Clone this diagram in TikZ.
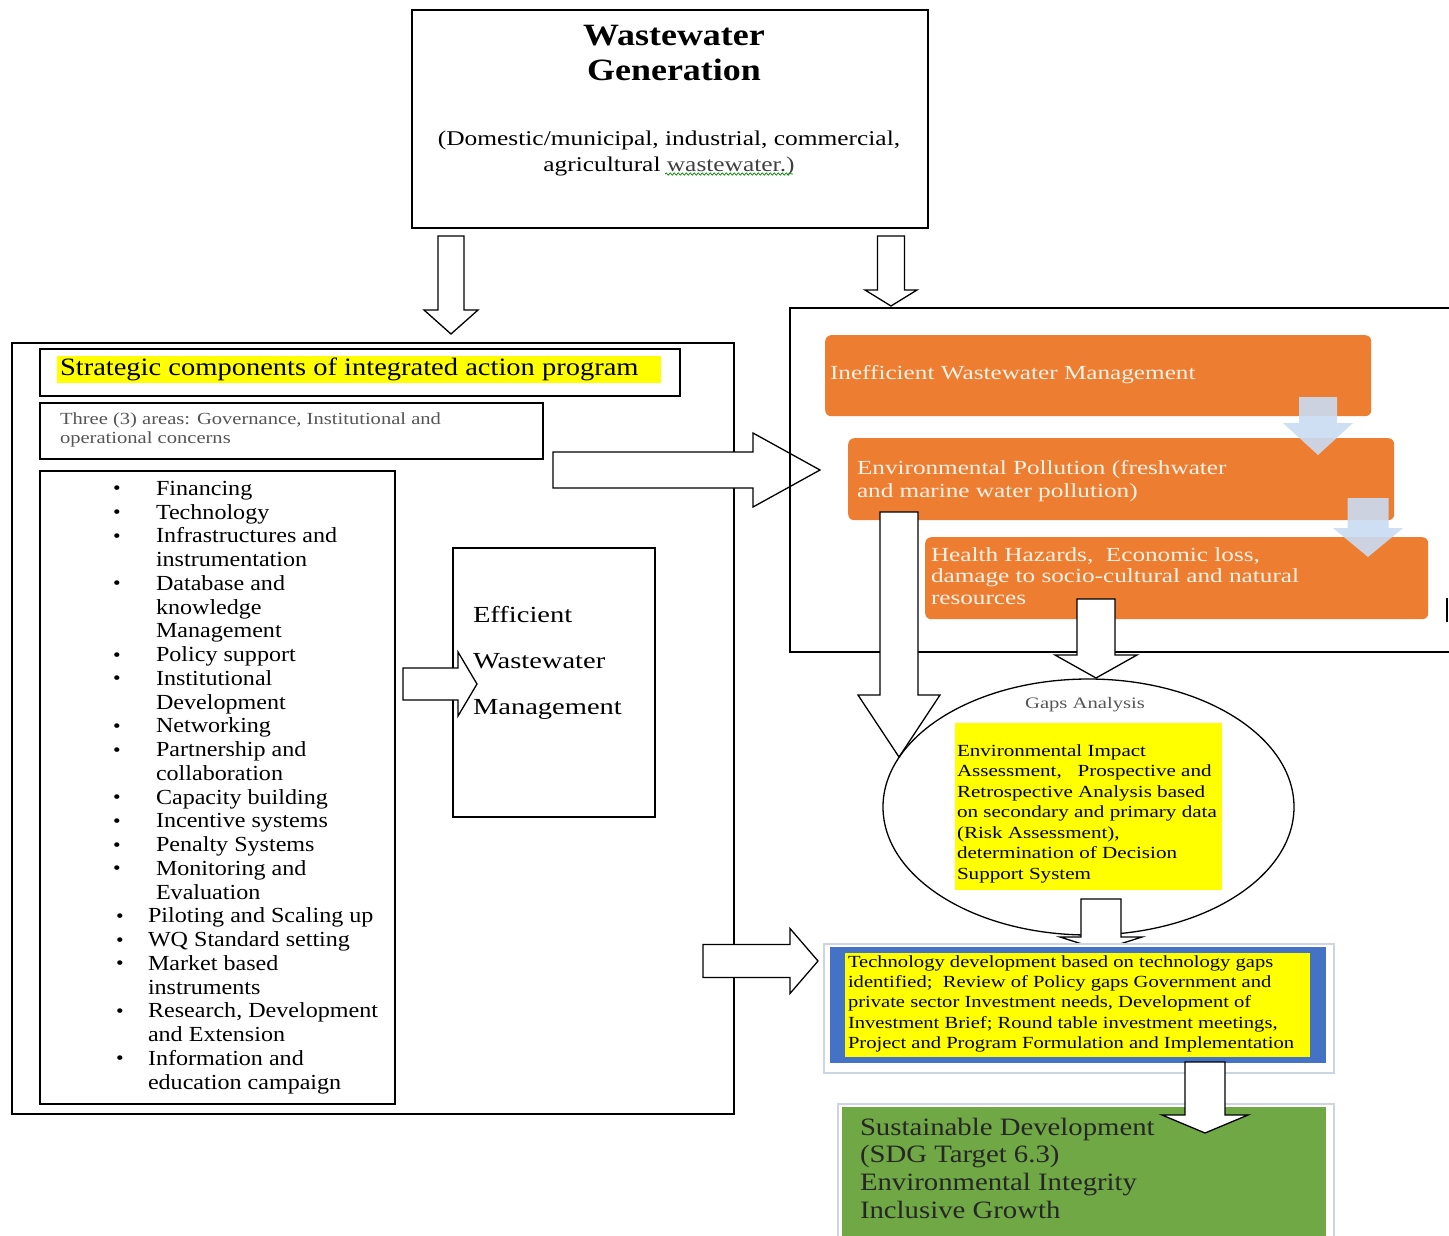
\documentclass[tikz,border=0pt]{standalone}
\usepackage{fontspec}
\setmainfont{Liberation Serif}
\usetikzlibrary{shapes.geometric,decorations.pathmorphing}
\definecolor{orng}{HTML}{ED7D31}
\definecolor{lblue}{HTML}{C9DCF2}
\definecolor{hyel}{HTML}{FFFF00}
\definecolor{sdgreen}{HTML}{6FA845}
\definecolor{tblue}{HTML}{4472C4}
\definecolor{fram}{HTML}{CDD5E0}
\definecolor{otext}{HTML}{FFF3E8}
\definecolor{gtext}{HTML}{555555}
\newcommand{\blkdown}[7][]{%
  \draw[blk,#1] ({#2-#3},#4) -- ({#2+#3},#4) -- ({#2+#3},#5) -- ({#2+#6},#5) -- (#2,#7) -- ({#2-#6},#5) -- ({#2-#3},#5) -- cycle;}
\newcommand{\blkright}[7][]{%
  \draw[blk,#1] (#2,{#3-#4}) -- (#5,{#3-#4}) -- (#5,{#3-#6}) -- (#7,#3) -- (#5,{#3+#6}) -- (#5,{#3+#4}) -- (#2,{#3+#4}) -- cycle;}
\newcommand{\fs}[3]{\fontsize{#1}{#2}\selectfont\addfontfeature{FakeStretch=#3}}
\newcommand{\bul}[1]{\makebox[#1][l]{\raisebox{0.5pt}{\scalebox{0.9}{\textbullet}}}}
\tikzset{
  blk/.style={draw=black, fill=white, line width=1.3pt, line join=miter},
  frame/.style={draw=black, line width=1.5pt},
  lightarrow/.style={fill=lblue, draw=none, opacity=0.9},
  obox/.style={fill=orng, rounded corners=6pt, draw=none},
  txt/.style={inner sep=0pt, outer sep=0pt},
}
\begin{document}
\begin{tikzpicture}[x=1pt,y=-1pt]
\useasboundingbox[fill=white] (0,0) rectangle (1449,1235);

% ---------- top box
\draw[frame] (412,10) rectangle (928,228);
\node[txt, font=\fs{31}{35}{1.16}\bfseries, align=center] (gentitle) at (674,53) {Wastewater\\Generation};
\node[txt, font=\fs{21}{26}{1.21}, align=center] (gensub) at (669,153) {(Domestic/municipal, industrial, commercial,\\agricultural \textcolor{black!75}{wastewater.)}};
\coordinate (sqA) at (665,174);
\coordinate (sqB) at (793,174);
\draw[green!55!black, line width=0.7pt, decorate, decoration={snake, amplitude=1.2pt, segment length=4pt}] (sqA) -- (sqB);

% arrows from top box
\blkdown{451}{13}{236}{310}{27}{334}
\blkdown{891}{13.5}{236}{290}{26}{306}

% ---------- left big box
\draw[frame] (12,343) rectangle (734,1114);
\draw[frame] (40,349) rectangle (680,396);
\fill[hyel] (57,356) rectangle (661,383);
\node[txt, font=\fs{25}{26}{1.14}, anchor=west] (strat) at (60,369) {Strategic components of integrated action program};
\draw[frame] (40,403) rectangle (543,459);
\node[txt, font=\fs{17}{19}{1.21}, text=gtext, anchor=north west, align=left] (three) at (60,412.4) {Three (3) areas: Governance, Institutional and\\operational concerns};

\draw[frame] (40,471) rectangle (395,1104);
\node[txt, font=\fs{21.5}{23.75}{1.12}, anchor=north west, align=left] (list) at (113,481) {%
\bul{43pt}Financing\\
\bul{43pt}Technology\\
\bul{43pt}Infrastructures and\\
\hspace*{43pt}instrumentation\\
\bul{43pt}Database and\\
\hspace*{43pt}knowledge\\
\hspace*{43pt}Management\\
\bul{43pt}Policy support\\
\bul{43pt}Institutional\\
\hspace*{43pt}Development\\
\bul{43pt}Networking\\
\bul{43pt}Partnership and\\
\hspace*{43pt}collaboration\\
\bul{43pt}Capacity building\\
\bul{43pt}Incentive systems\\
\bul{43pt}Penalty Systems\\
\bul{43pt}Monitoring and\\
\hspace*{43pt}Evaluation\\
\hspace*{3pt}\bul{32pt}Piloting and Scaling up\\
\hspace*{3pt}\bul{32pt}WQ Standard setting\\
\hspace*{3pt}\bul{32pt}Market based\\
\hspace*{35pt}instruments\\
\hspace*{3pt}\bul{32pt}Research, Development\\
\hspace*{35pt}and Extension\\
\hspace*{3pt}\bul{32pt}Information and\\
\hspace*{35pt}education campaign};

% efficient box
\draw[frame] (453,548) rectangle (655,817);
\node[txt, font=\fs{23}{46}{1.24}, anchor=north west, align=left] (eff) at (473,606.4) {Efficient\\Wastewater\\Management};
\blkright{403}{684}{16}{458}{32}{477}

% big arrow to right
\blkright{553}{470}{18}{753}{37}{820}

% ---------- right box
\draw[frame] (1452,308) -- (790,308) -- (790,652) -- (1452,652);
\draw[black, line width=1.2pt] (1447,598) -- (1447,622);
\node[obox, minimum width=546pt, minimum height=81pt, anchor=north west] (o1) at (825,335) {};
\node[obox, minimum width=546pt, minimum height=82pt, anchor=north west] (o2) at (848,438) {};
\node[obox, minimum width=503pt, minimum height=82pt, anchor=north west] (o3) at (925,537) {};
\node[txt, font=\fs{20}{23}{1.26}, text=otext, anchor=west] (o1t) at (830,375) {Inefficient Wastewater Management};
\node[txt, font=\fs{20}{23}{1.26}, text=otext, anchor=north west, align=left] (o2t) at (857,460.4) {Environmental Pollution (freshwater\\and marine water pollution)};
\node[txt, font=\fs{20}{21.5}{1.26}, text=otext, anchor=north west, align=left] (o3t) at (931,547.4) {Health Hazards,~ Economic loss,\\damage to socio-cultural and natural\\resources};
\blkdown[lightarrow]{1318}{19}{397}{423}{35}{455}
\blkdown[lightarrow]{1368}{20.5}{498}{528}{35}{557}

% arrows out of orange boxes
\blkdown{899}{19}{512}{695}{41}{757}
\blkdown{1096}{19}{599}{655}{41}{678}

% ---------- gaps analysis ellipse
\node[ellipse, draw=black, line width=1.3pt, minimum width=411pt, minimum height=256pt] (gaps) at (1088.5,807) {};
\node[txt, font=\fs{16}{18}{1.29}, text=gtext] (gapst) at (1085,705) {Gaps Analysis};
\fill[hyel] (955,723) rectangle (1222,890);
\node[txt, font=\fs{17}{20.5}{1.24}, anchor=north west, align=left] (eia) at (957,744.4) {Environmental Impact\\Assessment,~~ Prospective and\\Retrospective Analysis based\\on secondary and primary data\\(Risk Assessment),\\determination of Decision\\Support System};
\blkdown{1101}{20}{899}{937}{41}{950}

% ---------- technology box
\blkright{703}{961}{16.5}{790}{32.5}{818}
\draw[fram, line width=1.2pt, fill=white] (824,944) rectangle (1334,1073);
\fill[tblue] (830,947) rectangle (1326,1063);
\fill[hyel] (845,953) rectangle (1310,1057);
\node[txt, font=\fs{17}{20.3}{1.21}, anchor=north west, align=left] (tech) at (848,955.4) {Technology development based on technology gaps\\identified;~ Review of Policy gaps Government and\\private sector Investment needs, Development of\\Investment Brief; Round table investment meetings,\\Project and Program Formulation and Implementation};

% ---------- sustainable development box
\draw[fram, line width=1.2pt, fill=white] (838,1104) rectangle (1334,1240);
\fill[sdgreen] (842,1107) rectangle (1326,1240);
\node[txt, font=\fs{25}{27.7}{1.15}, text=black!85, anchor=north west, align=left] (sdg) at (860,1117.75) {Sustainable Development\\(SDG Target 6.3)\\Environmental Integrity\\Inclusive Growth};
\blkdown{1205}{20}{1062}{1115}{43}{1133}
\end{tikzpicture}
\end{document}
